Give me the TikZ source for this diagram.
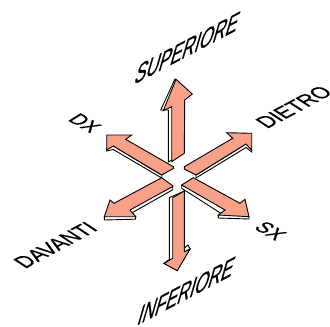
\documentclass[tikz,border=0pt]{standalone}
\usepackage{fontspec}
\setmainfont{Liberation Sans}
\newfontfamily\labfont[RawFeature={embolden=0.6}]{Liberation Sans}
\definecolor{salmon}{HTML}{F9A088}
\tikzset{
  face/.style={draw=black,fill=salmon,line width=0.9pt,line join=miter},
  side/.style={draw=black,fill=white,line width=0.9pt,line join=miter},
  lab/.style={inner sep=0pt,font=\fontsize{20}{20}\selectfont\labfont,anchor=base west},
  wallt/.style={lab,cm={0.87,0.46,0.42,1.45,(0,0)}},
  groundr/.style={lab,cm={0.88,0.47,-0.95,0.62,(0,0)}},
  groundl/.style={lab,cm={0.84,-0.48,0.88,0.55,(0,0)}}
}
\begin{document}
\begin{tikzpicture}[x=1pt,y=-1pt]
\useasboundingbox (0,0) rectangle (330,327);
% up
\draw[side] (168.3,162) -- (168.3,110) -- (160.7,110) -- (175,79) -- (178,83) -- (172,160) -- cycle;
\draw[face] (171.7,161.7) -- (184.3,153.3) -- (184.7,100) -- (192.3,94) -- (176,79.3) -- (163.3,110.7) -- (171.7,106.7) -- cycle;
% upper left
\draw[side] (106.7,151) -- (106.7,147) -- (113.3,146) -- (161.7,175) -- (161.7,178) -- (113.3,149.5) -- cycle;
\draw[face] (106.7,135) -- (131.7,135) -- (125.7,139.3) -- (173.3,166.7) -- (173.3,168.5) -- (161.7,175) -- (113.3,146) -- (106.7,150) -- cycle;
% upper right
\draw[side] (251.7,150) -- (251.7,152) -- (246,147.5) -- (196,178) -- (196,175) -- (246,144) -- cycle;
\draw[face] (251.7,133.3) -- (226.7,132.7) -- (232.7,138.3) -- (184.3,166.7) -- (184.3,169) -- (196,175) -- (246,144) -- (251.7,150) -- cycle;
% lower left
\draw[side] (104.3,216.7) -- (104.3,220) -- (135.3,219.2) -- (135.7,216.7) -- (132,212.8) -- (172.7,189.8) -- (172.7,186.5) -- cycle;
\draw[face] (161.7,177.7) -- (172.7,185.7) -- (172.7,186.5) -- (130,210) -- (135.7,216.7) -- (104.3,216.7) -- (110,200) -- (114,203.3) -- cycle;
% lower right
\draw[side] (181.7,185) -- (181.7,188.3) -- (222,214) -- (218.3,215) -- (218.3,218) -- (249,219) -- (249,216.7) -- cycle;
\draw[face] (193.3,177.7) -- (181.7,185) -- (225,210) -- (218.3,215) -- (249,216.7) -- (245,199.3) -- (240,203.3) -- cycle;
% down
\draw[side] (184.3,191) -- (169.3,197.7) -- (169.3,259.5) -- (164,263.3) -- (177,270) -- (190,249) -- (188,245) -- (184.3,248) -- cycle;
\draw[face] (184.3,191) -- (172.7,197.7) -- (172.7,258.3) -- (164,263.5) -- (177.3,270.7) -- (190,249) -- (184.3,251.7) -- cycle;
% labels
\node[wallt] (sup) at (133,85) {SUPERIORE};
\node[wallt] (inf) at (136,326) {INFERIORE};
\node[groundr] (die) at (267,129) {DIETRO};
\node[groundr] (dav) at (25,269) {DAVANTI};
\node[groundl] (dx) at (67,120) {DX};
\node[groundl] (sx) at (253,228) {SX};
\end{tikzpicture}
\end{document}
